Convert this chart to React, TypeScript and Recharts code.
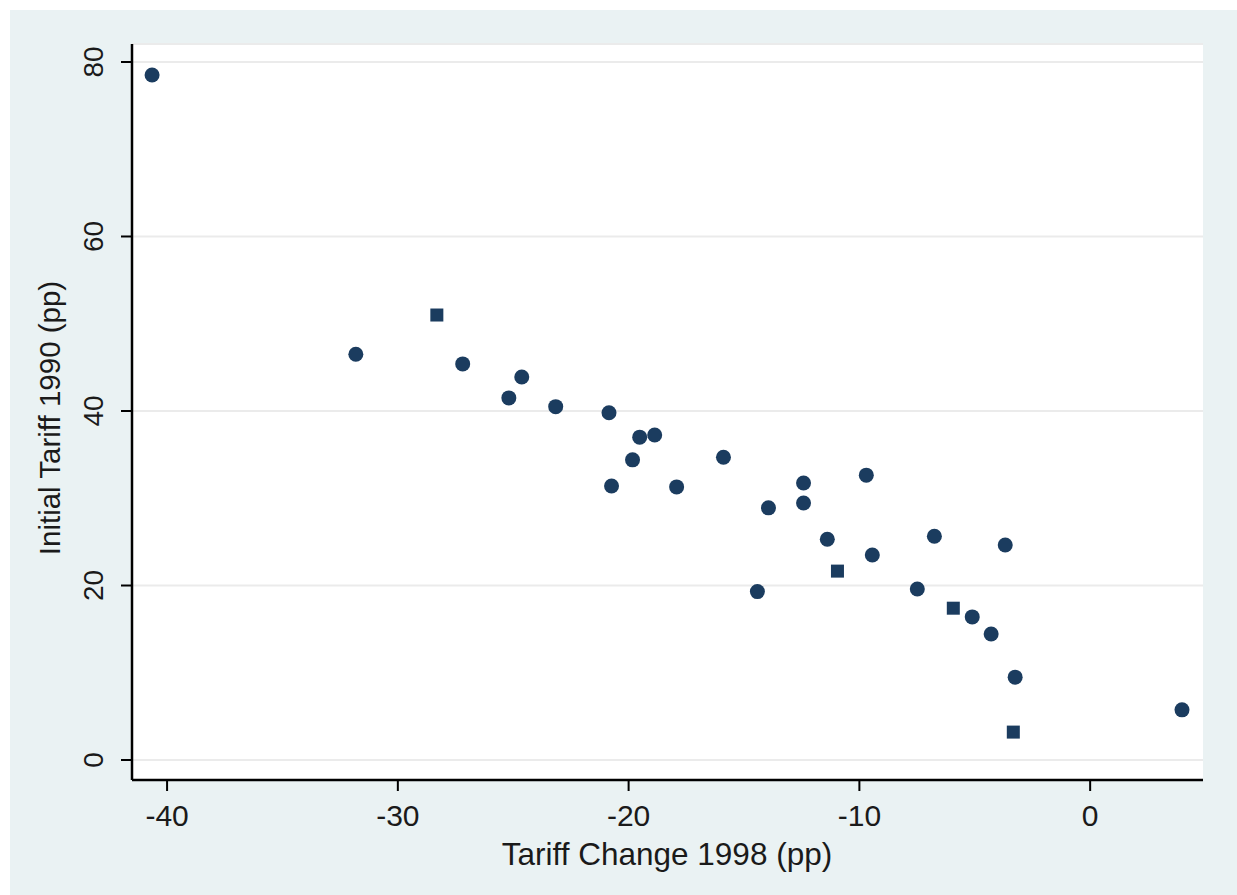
import { ScatterChart, Scatter, XAxis, YAxis, CartesianGrid } from 'recharts'

// tariff change 1998 (x) vs initial tariff 1990 (y)
const roundX = [-40.65, -31.82, -27.19, -24.63, -25.19, -23.16, -20.85, -19.83, -19.52, -18.87, -20.74, -17.92, -15.89, -13.94, -14.42, -12.42, -12.42, -11.39, -9.7, -9.44, -7.49, -6.75, -5.11, -4.29, -3.68, -3.25, 3.98]
const roundY = [78.5, 46.5, 45.4, 43.9, 41.5, 40.5, 39.8, 34.4, 37.0, 37.25, 31.4, 31.3, 34.7, 28.9, 19.3, 31.75, 29.45, 25.3, 32.65, 23.5, 19.6, 25.65, 16.4, 14.45, 24.65, 9.5, 5.75]
const squareX = [-28.31, -10.95, -5.93, -3.33]
const squareY = [51.0, 21.65, 17.4, 3.2]

const xTicks = [-40, -30, -20, -10, 0]
const yTicks = [0, 20, 40, 60, 80]

const roundPts = roundX.map((x, i) => ({ x, y: roundY[i] }))
const squarePts = squareX.map((x, i) => ({ x, y: squareY[i] }))

const NAVY = '#1b3c5f'
const INK = '#1a1a1a'
const FONT = '"Liberation Sans", Arial, sans-serif'

const XTick = (p: any) => (
  <text x={p.x} y={816} textAnchor="middle" fontSize={30} fontFamily={FONT} fill={INK}>
    {p.payload.value}
  </text>
)

const YTick = (p: any) => (
  <text x={93} y={p.y} transform={`rotate(-90, 93, ${p.y})`} textAnchor="middle" fontSize={28} fontFamily={FONT} fill={INK}>
    {p.payload.value}
  </text>
)

const Dot = (p: any) => <circle cx={p.cx} cy={p.cy} r={7.5} fill={NAVY} />
const Box = (p: any) => <rect x={p.cx - 6.5} y={p.cy - 6.5} width={13} height={13} fill={NAVY} />

export default function App() {
  return (
    <div style={{ position: 'absolute', left: 10, top: 10, width: 1227, height: 885, background: '#eaf2f3' }}>
      <ScatterChart width={1227} height={885} margin={{ top: 34, right: 34, left: 0, bottom: 0 }}>
        <CartesianGrid vertical={false} stroke="#ebebeb" strokeWidth={2} fill="#fff" />
        <XAxis
          type="number" dataKey="x" domain={[-41.52, 4.89]} ticks={xTicks} allowDataOverflow
          height={115} tickSize={11} interval={0}
          axisLine={{ stroke: '#000', strokeWidth: 2.5 }} tickLine={{ stroke: '#000', strokeWidth: 2 }}
          tick={XTick}
          label={() => (
            <text x={657} y={855} textAnchor="middle" fontSize={31.5} fontFamily={FONT} fill={INK}>
              Tariff Change 1998 (pp)
            </text>
          )}
        />
        <YAxis
          type="number" dataKey="y" domain={[-2.29, 82.06]} ticks={yTicks} allowDataOverflow
          width={122} tickSize={11} interval={0}
          axisLine={{ stroke: '#000', strokeWidth: 2.5 }} tickLine={{ stroke: '#000', strokeWidth: 2 }}
          tick={YTick}
          label={() => (
            <text x={50} y={408} transform="rotate(-90, 50, 408)" textAnchor="middle" fontSize={29.5} fontFamily={FONT} fill={INK}>
              Initial Tariff 1990 (pp)
            </text>
          )}
        />
        <Scatter data={roundPts} shape={Dot} isAnimationActive={false} />
        <Scatter data={squarePts} shape={Box} isAnimationActive={false} />
      </ScatterChart>
    </div>
  )
}
